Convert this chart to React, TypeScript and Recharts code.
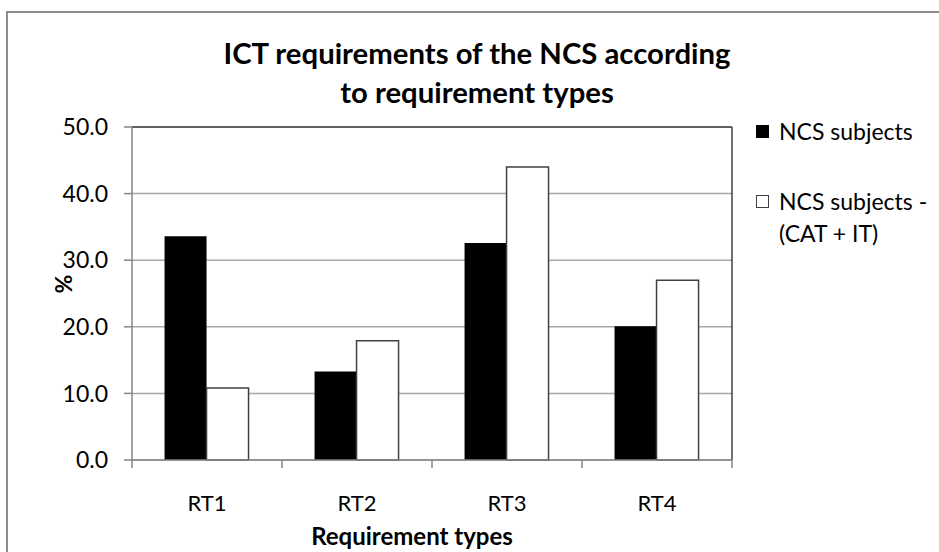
import React from "react";
import {
  BarChart,
  Bar,
  XAxis,
  YAxis,
  CartesianGrid,
  Legend,
  ReferenceLine,
} from "recharts";

const categories = ["RT1", "RT2", "RT3", "RT4"];
const ncsSubjects = [33.6, 13.3, 32.6, 20.1];
const ncsMinusCatIt = [10.8, 17.9, 44.0, 27.0];
const yTicks = [0, 10, 20, 30, 40, 50];

const data = categories.map((name, i) => ({
  name,
  ncs: ncsSubjects[i],
  ncsMinus: ncsMinusCatIt[i],
}));

const FONT = "Lato, 'Open Sans', 'DejaVu Sans', sans-serif";
const AXIS = "#868686";
const X_TICK_MARGIN = 35;
const X_TICK_LEN = 8;

// Excel puts the category ticks on the band edges, not the centres
const CategoryTick = (props: any) => {
  const { x, y, payload, index, visibleTicksCount } = props;
  const half = payload?.offset ?? 0;
  const axisY = y - X_TICK_MARGIN;
  const isLast = index === visibleTicksCount - 1;
  return (
    <g>
      <line x1={x - half} x2={x - half} y1={axisY} y2={axisY + X_TICK_LEN} stroke={AXIS} strokeWidth={1.5} />
      {isLast && (
        <line x1={x + half} x2={x + half} y1={axisY} y2={axisY + X_TICK_LEN} stroke={AXIS} strokeWidth={1.5} />
      )}
      <text x={x} y={y} dy="0.71em" textAnchor="middle" fill="#000" fontSize={22} fontFamily={FONT}>
        {payload.value}
      </text>
    </g>
  );
};

const LegendBox = () => (
  <div style={{ fontFamily: FONT, fontSize: 23, color: "#000", lineHeight: "32px", textAlign: "left" }}>
    <div style={{ display: "flex", alignItems: "flex-start" }}>
      <span style={{ width: 13, height: 13, background: "#000", marginTop: 10, marginRight: 10, flex: "none" }} />
      <span>NCS subjects</span>
    </div>
    <div style={{ display: "flex", alignItems: "flex-start", marginTop: 38 }}>
      <span
        style={{
          width: 11,
          height: 11,
          background: "#fff",
          border: "1px solid #404040",
          marginTop: 10,
          marginRight: 10,
          flex: "none",
        }}
      />
      <span>
        NCS subjects -<br />
        (CAT + IT)
      </span>
    </div>
  </div>
);

export default function App() {
  return (
    <div
      style={{
        position: "absolute",
        left: 0,
        top: 0,
        width: 939,
        height: 552,
        overflow: "hidden",
        background: "#fff",
      }}
    >
      <div
        style={{
          position: "absolute",
          left: 6,
          top: 11,
          width: 960,
          height: 580,
          border: "2px solid #8c8c8c",
        }}
      />
      <div
        style={{
          position: "absolute",
          left: 0,
          top: 33,
          width: 954,
          textAlign: "center",
          fontFamily: FONT,
          fontWeight: 700,
          fontSize: 29.3,
          lineHeight: "39px",
          color: "#000",
        }}
      >
        ICT requirements of the NCS according
        <br />
        to requirement types
      </div>
      <BarChart
        width={939}
        height={552}
        data={data}
        margin={{ top: 127, right: 207, bottom: 0, left: 0 }}
        barCategoryGap="21.7%"
        barGap={0}
        style={{ position: "absolute", left: 0, top: 0 }}
      >
        <CartesianGrid vertical={false} stroke="#a8a8a8" strokeWidth={1.5} />
        {/* plot-area border on the right */}
        <CartesianGrid
          horizontal={false}
          stroke="#404040"
          strokeWidth={1.5}
          verticalCoordinatesGenerator={({ offset }: any) => [offset.left + offset.width]}
        />
        <XAxis
          dataKey="name"
          height={92}
          tickSize={0}
          tickMargin={X_TICK_MARGIN}
          tickLine={false}
          axisLine={{ stroke: AXIS, strokeWidth: 1.5 }}
          tick={<CategoryTick />}
          label={{
            value: "Requirement types",
            position: "insideBottom",
            offset: 7,
            dx: -20,
            fill: "#000",
            fontSize: 24,
            fontWeight: 700,
            fontFamily: FONT,
          }}
        />
        <YAxis
          width={132}
          domain={[0, 50]}
          ticks={yTicks}
          tickFormatter={(v: number) => v.toFixed(1)}
          tickSize={8}
          tickMargin={16}
          axisLine={{ stroke: AXIS, strokeWidth: 1.5 }}
          tickLine={{ stroke: AXIS, strokeWidth: 1.5 }}
          tick={{ fill: "#000", fontSize: 23, fontFamily: FONT }}
          label={{
            value: "%",
            angle: -90,
            position: "insideLeft",
            offset: 64,
            fill: "#000",
            fontSize: 23,
            fontWeight: 700,
            fontFamily: FONT,
          }}
        />
        <ReferenceLine y={50} stroke="#404040" strokeWidth={1.5} />
        <Bar dataKey="ncs" name="NCS subjects" fill="#000" isAnimationActive={false} />
        <Bar
          dataKey="ncsMinus"
          name="NCS subjects - (CAT + IT)"
          fill="#fff"
          stroke="#404040"
          strokeWidth={1.5}
          isAnimationActive={false}
        />
        <Legend
          layout="horizontal"
          verticalAlign="middle"
          align="center"
          wrapperStyle={{ position: "absolute", left: 756, top: 115, width: 183 }}
          content={() => <LegendBox />}
        />
      </BarChart>
    </div>
  );
}
